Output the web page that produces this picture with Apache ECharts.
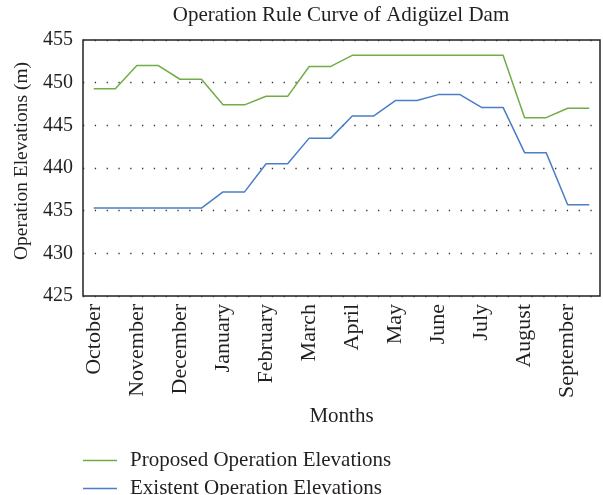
<!DOCTYPE html>
<html>
<head>
<meta charset="utf-8">
<script src="https://cdn.jsdelivr.net/npm/echarts@6/dist/echarts.min.js"></script>
<style>
html, body { margin: 0; padding: 0; background: #fff; }
#main { width: 603px; height: 495px; }
</style>
</head>
<body>
<div id="main"></div>
<script>
// months on the axis, two points per month (start / end)
var months = ['October', 'November', 'December', 'January', 'February', 'March',
    'April', 'May', 'June', 'July', 'August', 'September'];
var proposed = [449.3, 449.3, 452.0, 452.0, 450.4, 450.4, 447.4, 447.4, 448.4, 448.4, 451.9, 451.9,
    453.2, 453.2, 453.2, 453.2, 453.2, 453.2, 453.2, 453.2, 445.9, 445.9, 447.0, 447.0];
var existent = [435.3, 435.3, 435.3, 435.3, 435.3, 435.3, 437.2, 437.2, 440.5, 440.5, 443.5, 443.5,
    446.1, 446.1, 447.9, 447.9, 448.6, 448.6, 447.1, 447.1, 441.8, 441.8, 435.7, 435.7];
var yTicks = [425, 455, 5];

var FONT = 'Liberation Serif';
var TXT = '#231f20';

var categories = [];
months.forEach(function (m) {
    categories.push(m + ' a');
    categories.push(m + ' b');
});

var myChart = echarts.init(document.getElementById('main'));

var option = {
    animation: false,
    textStyle: { fontFamily: FONT, color: TXT },
    title: {
        text: 'Operation Rule Curve of Adigüzel Dam',
        left: 341,
        textAlign: 'center',
        top: 5,
        padding: 0,
        textStyle: { fontFamily: FONT, fontSize: 21, fontWeight: 'normal', color: TXT }
    },
    grid: {
        left: 83, right: 3, top: 40, bottom: 199,
        show: true, borderColor: '#222', borderWidth: 1.5
    },
    legend: {
        orient: 'vertical',
        left: 83,
        top: 450,
        width: 400,
        height: 70,
        padding: 0,
        icon: 'rect',
        itemWidth: 34,
        itemHeight: 1.5,
        itemGap: 7,
        textStyle: { fontFamily: FONT, fontSize: 21, color: TXT, padding: [0, 0, 0, 8] },
        data: ['Proposed Operation Elevations', 'Existent Operation Elevations']
    },
    xAxis: {
        type: 'category',
        data: categories,
        boundaryGap: true,
        name: 'Months',
        nameLocation: 'middle',
        nameGap: 110,
        nameTextStyle: { fontFamily: FONT, fontSize: 21, color: TXT },
        axisLine: { show: false },
        axisTick: { show: false },
        axisLabel: {
            interval: 1,
            rotate: 90,
            margin: 8,
            fontFamily: FONT,
            fontSize: 22,
            color: TXT,
            formatter: function (v, i) { return months[Math.floor(i / 2)]; }
        },
        splitLine: { show: false }
    },
    yAxis: {
        type: 'value',
        min: yTicks[0],
        max: yTicks[1],
        interval: yTicks[2],
        name: 'Operation Elevations (m)',
        nameLocation: 'middle',
        nameGap: 49,
        nameTextStyle: { fontFamily: FONT, fontSize: 19.5, color: TXT, padding: [0, 0, 0, 14] },
        axisLine: { show: false },
        axisTick: { show: false },
        axisLabel: { fontFamily: FONT, fontSize: 20, color: TXT, margin: 10 },
        splitLine: {
            show: true,
            lineStyle: { color: '#333', width: 1.3, type: [1.3, 10.5] }
        }
    },
    series: [
        {
            name: 'Proposed Operation Elevations',
            type: 'line',
            data: proposed,
            symbol: 'none',
            lineStyle: { color: '#70ad47', width: 1.5 },
            itemStyle: { color: '#70ad47' }
        },
        {
            name: 'Existent Operation Elevations',
            type: 'line',
            data: existent,
            symbol: 'none',
            lineStyle: { color: '#4a7ec8', width: 1.5 },
            itemStyle: { color: '#4a7ec8' }
        }
    ]
};

myChart.setOption(option);
</script>
</body>
</html>
